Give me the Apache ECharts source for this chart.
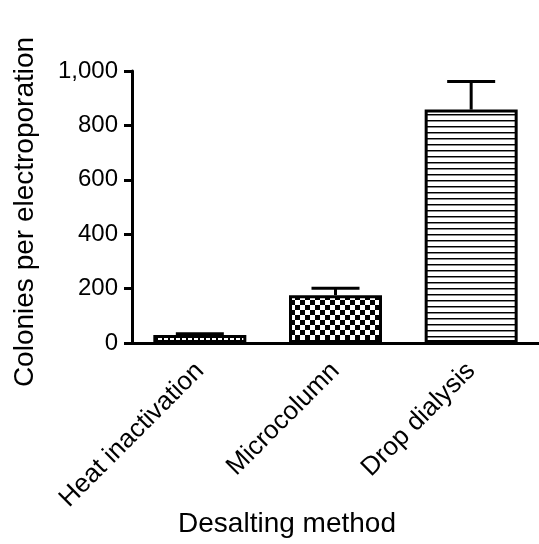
<!DOCTYPE html>
<html><head><meta charset="utf-8">
<script src="https://cdn.jsdelivr.net/npm/echarts@6/dist/echarts.min.js"></script>
<style>html,body{margin:0;padding:0;background:#fff}#c{width:539px;height:544px}</style>
</head><body><div id="c"></div>
<script>
var categories = ['Heat inactivation', 'Microcolumn', 'Drop dialysis'];
var means = [29, 176, 858];
var errors = [5, 25, 103];
var yTicks = [0, 200, 400, 600, 800, 1000];
var yTitle = 'Colonies per electroporation';
var xTitle = 'Desalting method';

function makePattern(kind) {
  var c = document.createElement('canvas');
  var ctx = c.getContext('2d');
  if (kind === 'dots') {
    c.width = 6; c.height = 6;
    ctx.fillStyle = '#fff'; ctx.fillRect(0, 0, 6, 6);
    ctx.fillStyle = '#000'; ctx.fillRect(0, 0, 2, 6); ctx.fillRect(0, 0, 6, 2);
  } else if (kind === 'checker') {
    c.width = 10; c.height = 10;
    ctx.fillStyle = '#fff'; ctx.fillRect(0, 0, 10, 10);
    ctx.fillStyle = '#000'; ctx.fillRect(0, 0, 5, 5); ctx.fillRect(5, 5, 5, 5);
  } else {
    c.width = 6; c.height = 6;
    ctx.fillStyle = '#fff'; ctx.fillRect(0, 0, 6, 6);
    ctx.fillStyle = '#000'; ctx.fillRect(0, 0, 6, 1);
    ctx.fillStyle = '#888'; ctx.fillRect(0, 1, 6, 1);
  }
  return { image: c, repeat: 'repeat' };
}
var patterns = [makePattern('dots'), makePattern('checker'), makePattern('lines')];

var chart = echarts.init(document.getElementById('c'), null, { renderer: 'canvas' });
var font = 'Liberation Sans, Arial, Helvetica, sans-serif';
chart.setOption({
  animation: false,
  backgroundColor: '#fff',
  grid: { left: 132, top: 71, width: 411, height: 272, containLabel: false },
  xAxis: {
    type: 'category', data: categories,
    axisLine: { lineStyle: { color: '#000', width: 3 } },
    axisTick: { alignWithLabel: true, length: 9, lineStyle: { color: '#000', width: 3 } },
    axisLabel: { rotate: 45, margin: 24, color: '#000', fontSize: 26, fontFamily: font, interval: 0 }
  },
  yAxis: {
    type: 'value', min: 0, max: 1000, interval: 200,
    splitLine: { show: false },
    axisLine: { show: true, lineStyle: { color: '#000', width: 3 } },
    axisTick: { show: true, length: 8, lineStyle: { color: '#000', width: 3 } },
    axisLabel: { margin: 14, color: '#000', fontSize: 24, fontFamily: font,
      formatter: function (v) { return yTicks.indexOf(v) >= 0 ? v.toLocaleString('en-US') : ''; } }
  },
  graphic: [
    { type: 'text', x: 287, y: 524,
      style: { text: xTitle, font: '28px ' + font, fill: '#000', align: 'center', verticalAlign: 'middle' } },
    { type: 'text', x: 25, y: 212, rotation: Math.PI / 2,
      style: { text: yTitle, font: '28px ' + font, fill: '#000', align: 'center', verticalAlign: 'middle' } }
  ],
  series: [
    {
      type: 'bar', barWidth: 93,
      data: means.map(function (v, i) {
        return { value: v, itemStyle: { color: patterns[i], borderColor: '#000', borderWidth: 3 } };
      }),
      z: 2
    },
    {
      type: 'custom', z: 3,
      data: means.map(function (v, i) { return [i, v, v + errors[i]]; }),
      renderItem: function (params, api) {
        var p0 = api.coord([api.value(0), api.value(1)]);
        var p1 = api.coord([api.value(0), api.value(2)]);
        var hw = 24;
        return { type: 'group', children: [
          { type: 'line', shape: { x1: p0[0], y1: p0[1], x2: p1[0], y2: p1[1] }, style: { stroke: '#000', lineWidth: 3 } },
          { type: 'line', shape: { x1: p1[0] - hw, y1: p1[1], x2: p1[0] + hw, y2: p1[1] }, style: { stroke: '#000', lineWidth: 3 } }
        ] };
      }
    }
  ]
});
</script></body></html>
